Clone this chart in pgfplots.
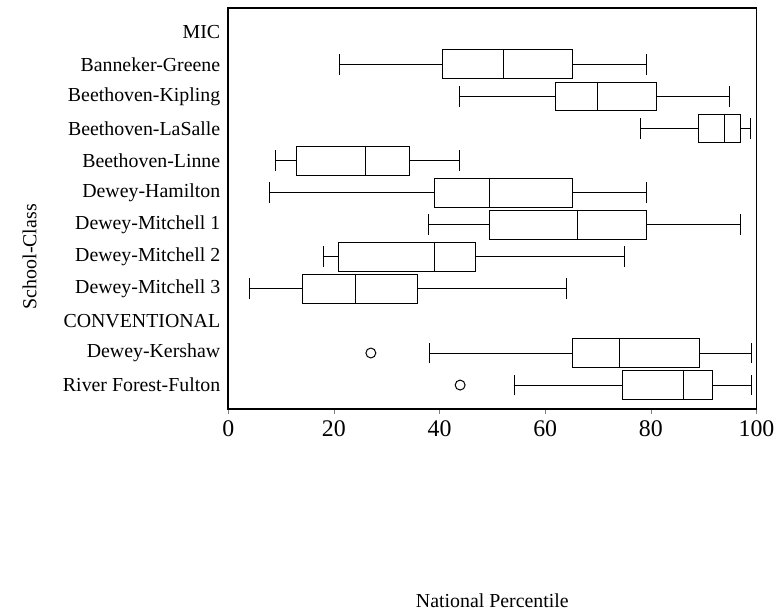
\documentclass[border=0pt]{standalone}
\usepackage{pgfplots}
\pgfplotsset{compat=1.18}
\usepgfplotslibrary{statistics}
\usepackage{fontspec}
\setmainfont{Liberation Serif}

\begin{document}
\begin{tikzpicture}
	\begin{axis}[
			width=266pt, height=202pt,
			scale only axis,
			xmin=0, xmax=100,
			ymin=0.25, ymax=12.76,
			xtick={0,20,...,100},
			xtick pos=bottom,
			tick align=outside,
			major tick length=2.5pt,
			ytick={1,...,12},
			yticklabels={River Forest-Fulton, Dewey-Kershaw, CONVENTIONAL,
					Dewey-Mitchell 3, Dewey-Mitchell 2, Dewey-Mitchell 1,
					Dewey-Hamilton, Beethoven-Linne, Beethoven-LaSalle,
					Beethoven-Kipling, Banneker-Greene, MIC},
			ytick style={draw=none},
			yticklabel style={font=\fontsize{10}{12}\selectfont, xshift=2pt},
			xticklabel style={font=\fontsize{12}{14}\selectfont},
			/pgf/number format/assume math mode=true,
			axis line style={line width=0.8pt},
			xlabel={National Percentile},
			xlabel style={font=\fontsize{10}{12}\selectfont, yshift=-72pt},
			ylabel={School-Class},
			ylabel style={font=\fontsize{10}{12}\selectfont,
					at={(axis description cs:-0.376,0.38)}, anchor=center},
			boxplot/draw direction=x,
			clip=false,
		]
		% MIC
		\addplot[black, line width=0.5pt, boxplot prepared={draw position=11,
						lower whisker=21, lower quartile=40.6, median=52.1,
						upper quartile=65.1, upper whisker=79.1,
						box extend=0.9, whisker extend=0.65}] coordinates {};
		\addplot[black, line width=0.5pt, boxplot prepared={draw position=10,
						lower whisker=43.8, lower quartile=62.0, median=69.9,
						upper quartile=81.1, upper whisker=94.9,
						box extend=0.9, whisker extend=0.65}] coordinates {};
		\addplot[black, line width=0.5pt, boxplot prepared={draw position=9,
						lower whisker=78.1, lower quartile=89.0, median=94.0,
						upper quartile=97.0, upper whisker=98.9,
						box extend=0.9, whisker extend=0.65}] coordinates {};
		\addplot[black, line width=0.5pt, boxplot prepared={draw position=8,
						lower whisker=8.9, lower quartile=12.9, median=26.0,
						upper quartile=34.4, upper whisker=43.8,
						box extend=0.9, whisker extend=0.65}] coordinates {};
		\addplot[black, line width=0.5pt, boxplot prepared={draw position=7,
						lower whisker=7.9, lower quartile=39.0, median=49.5,
						upper quartile=65.1, upper whisker=79.1,
						box extend=0.9, whisker extend=0.65}] coordinates {};
		\addplot[black, line width=0.5pt, boxplot prepared={draw position=6,
						lower whisker=38.0, lower quartile=49.5, median=66.1,
						upper quartile=79.1, upper whisker=96.9,
						box extend=0.9, whisker extend=0.65}] coordinates {};
		\addplot[black, line width=0.5pt, boxplot prepared={draw position=5,
						lower whisker=18.1, lower quartile=20.9, median=39.0,
						upper quartile=46.9, upper whisker=75.0,
						box extend=0.9, whisker extend=0.65}] coordinates {};
		\addplot[black, line width=0.5pt, boxplot prepared={draw position=4,
						lower whisker=4.1, lower quartile=14.0, median=24.0,
						upper quartile=35.9, upper whisker=64.1,
						box extend=0.9, whisker extend=0.65}] coordinates {};
		% CONVENTIONAL
		\addplot[black, line width=0.5pt, mark=o, mark size=2.5pt,
			boxplot prepared={draw position=2,
						lower whisker=38.1, lower quartile=65.1, median=74.0,
						upper quartile=89.2, upper whisker=99.0,
						box extend=0.9, whisker extend=0.65}]
		table[row sep=\\, y index=0] {27.0\\};
		\addplot[black, line width=0.5pt, mark=o, mark size=2.5pt,
			boxplot prepared={draw position=1,
						lower whisker=54.2, lower quartile=74.6, median=86.1,
						upper quartile=91.7, upper whisker=99.0,
						box extend=0.9, whisker extend=0.65}]
		table[row sep=\\, y index=0] {43.9\\};
		% keep the reference's margins
		\path (rel axis cs:-0.432,-0.5025) rectangle (rel axis cs:1.0357,1.0198);
	\end{axis}
\end{tikzpicture}
\end{document}
